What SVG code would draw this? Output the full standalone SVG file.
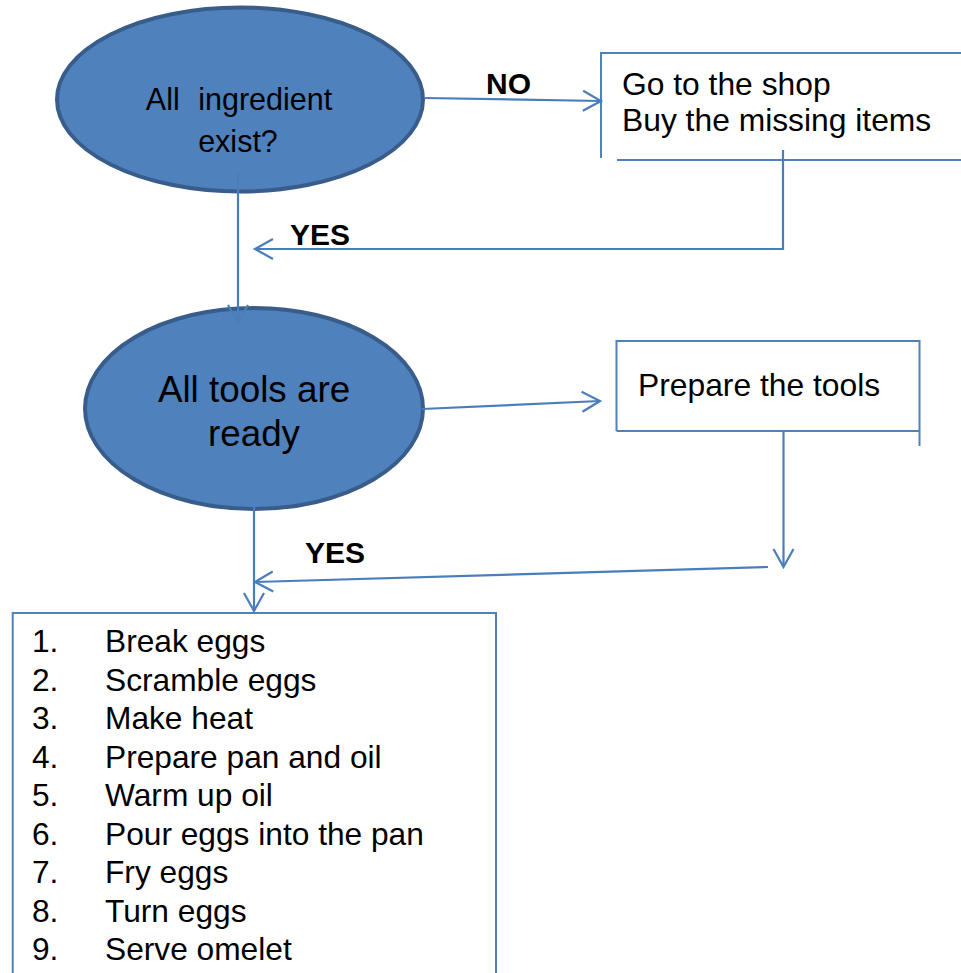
<svg xmlns="http://www.w3.org/2000/svg" width="961" height="973" viewBox="0 0 961 973">
<style>
.t{font-family:"Liberation Sans",Arial,sans-serif;fill:#000}
.b{font-weight:bold;font-size:30px}
.dec{fill:#4f81bd;stroke:#385d8a;stroke-width:4}
.box{fill:none;stroke:#4f81bd;stroke-width:2}
.con{fill:none;stroke:#4a7ebb;stroke-width:2.2}
</style>
<defs>
<marker id="ah" viewBox="-20 -12 22 24" refX="0" refY="0" markerWidth="22" markerHeight="24" markerUnits="userSpaceOnUse" orient="auto">
<path d="M-18,-10 L0,0 L-18,10" fill="none" stroke="#4a7ebb" stroke-width="2.2"/>
</marker>
</defs>
<rect width="961" height="973" fill="#fff"/>
<g id="n-ingredients">
<ellipse class="dec" cx="240" cy="99.5" rx="183" ry="92"/>
<text class="t" x="239" y="110" font-size="30.5" text-anchor="middle" word-spacing="10">All ingredient</text>
<text class="t" x="238" y="152" font-size="30.5" text-anchor="middle">exist?</text>
</g>
<g id="n-shop">
<path class="box" d="M601,158 V53 H961 M617,160 H961"/>
<text class="t" x="622" y="95" font-size="31.8">Go to the shop</text>
<text class="t" x="622" y="131" font-size="31.8">Buy the missing items</text>
</g>
<g id="n-tools">
<ellipse class="dec" cx="254" cy="408.5" rx="169" ry="100.5"/>
<text class="t" x="254" y="402" font-size="36.8" text-anchor="middle">All tools are</text>
<text class="t" x="254" y="446" font-size="36.8" text-anchor="middle">ready</text>
</g>
<g id="n-prepare">
<path class="box" d="M616.5,431 V341 H919.5 V446 M616.5,431 H919.5"/>
<text class="t" x="638" y="396" font-size="31.8">Prepare the tools</text>
</g>
<g id="n-steps">
<path class="box" d="M12.7,973 V613 H496 V973"/>
<g class="t" font-size="31.7">
<text x="32" y="652">1.</text><text x="105" y="652">Break eggs</text>
<text x="32" y="690.5">2.</text><text x="105" y="690.5">Scramble eggs</text>
<text x="32" y="729">3.</text><text x="105" y="729">Make heat</text>
<text x="32" y="767.5">4.</text><text x="105" y="767.5">Prepare pan and oil</text>
<text x="32" y="806">5.</text><text x="105" y="806">Warm up oil</text>
<text x="32" y="844.5">6.</text><text x="105" y="844.5">Pour eggs into the pan</text>
<text x="32" y="883">7.</text><text x="105" y="883">Fry eggs</text>
<text x="32" y="921.5">8.</text><text x="105" y="921.5">Turn eggs</text>
<text x="32" y="960">9.</text><text x="105" y="960">Serve omelet</text>
</g>
</g>
<g id="connectors">
<path class="con" d="M424,98 L601,101" marker-end="url(#ah)"/>
<path class="con" d="M238,173 L238,323" marker-end="url(#ah)"/>
<path class="con" d="M783,150 V249 H255" marker-end="url(#ah)"/>
<path class="con" d="M422,409 L600,401" marker-end="url(#ah)"/>
<path class="con" d="M783.5,431 V567" marker-end="url(#ah)"/>
<path class="con" d="M768,567 L255,582" marker-end="url(#ah)"/>
<path class="con" d="M254,507 V611" marker-end="url(#ah)"/>
</g>
<g id="labels">
<text class="t b" x="486" y="94">NO</text>
<text class="t b" x="290" y="245">YES</text>
<text class="t b" x="305" y="563">YES</text>
</g>
</svg>
